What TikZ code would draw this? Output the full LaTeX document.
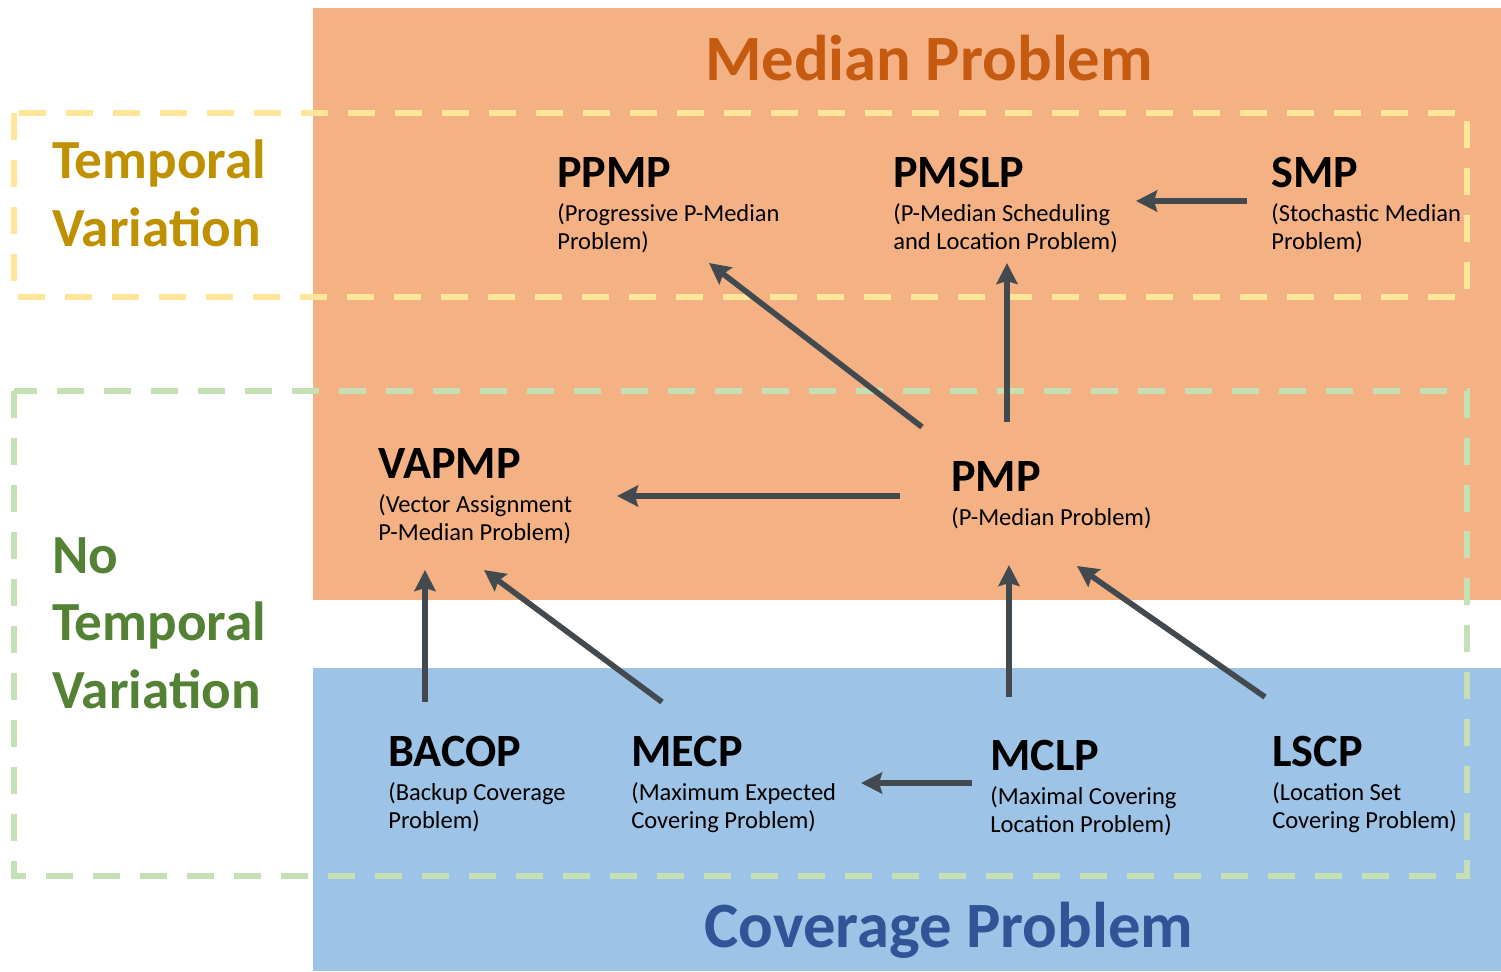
\documentclass[tikz,border=0pt]{standalone}
\usepackage{fontspec}
\setmainfont{Carlito}
\usetikzlibrary{arrows.meta}
\definecolor{medianfill}{HTML}{F4B183}
\definecolor{coverfill}{HTML}{9DC3E6}
\definecolor{mediantext}{HTML}{C55A11}
\definecolor{covertext}{HTML}{2F5597}
\definecolor{goldtext}{HTML}{BF9000}
\definecolor{greentext}{HTML}{548235}
\definecolor{golddash}{HTML}{FFE699}
\definecolor{greendash}{HTML}{C5E0B4}
\definecolor{arrowgray}{HTML}{42494F}
\begin{document}
\begin{tikzpicture}[x=0.02cm,y=-0.02cm,
  abbr/.style={anchor=base west, inner sep=0pt, font=\fontsize{26.3}{30}\selectfont\bfseries},
  fullname/.style={anchor=base west, inner sep=0pt, align=left, font=\fontsize{13.95}{15.9}\selectfont},
  bandtitle/.style={anchor=base, inner sep=0pt, font=\fontsize{36.8}{40}\selectfont\bfseries},
  sidetitle/.style={anchor=base west, inner sep=0pt, align=left, font=\fontsize{31.4}{38.3}\selectfont\bfseries},
  dashbox/.style={line width=3.4pt, dash pattern=on 0.54cm off 0.4cm},
  link/.style={draw=arrowgray, line width=3.2pt, -{Stealth[length=0.42cm,width=0.42cm,inset=0.06cm]}}
]
\useasboundingbox (0,0) rectangle (1501,971);

% coloured bands
\fill[medianfill] (313,8) rectangle (1501,600);
\fill[coverfill] (313,668) rectangle (1501,971);

% dashed groupings
\draw[dashbox, golddash] (14,113) rectangle (1467,297);
\draw[dashbox, greendash] (14,391) rectangle (1467,876);

% band titles
\node[bandtitle, text=mediantext] (mtitle) at (929,80) {Median Problem};
\node[bandtitle, text=covertext] (ctitle) at (949,947) {Coverage Problem};

% side titles (anchored on the last line)
\node[sidetitle, text=goldtext] (tv) at (52,246) {Temporal\\Variation};
\node[sidetitle, text=greentext] (ntv) at (52,708) {No\\Temporal\\Variation};

% problems: acronym, then full name (anchored on its last line)
\node[abbr] (ppmp) at (557,187) {PPMP};
\node[fullname] (ppmp-d) at (557,249) {(Progressive P-Median\\Problem)};
\node[abbr] (pmslp) at (893,187) {PMSLP};
\node[fullname] (pmslp-d) at (893,249) {(P-Median Scheduling\\and Location Problem)};
\node[abbr] (smp) at (1271,187) {SMP};
\node[fullname] (smp-d) at (1271,249) {(Stochastic Median\\Problem)};
\node[abbr] (vapmp) at (378,478) {VAPMP};
\node[fullname] (vapmp-d) at (378,540) {(Vector Assignment\\P-Median Problem)};
\node[abbr] (pmp) at (951,491) {PMP};
\node[fullname] (pmp-d) at (951,525) {(P-Median Problem)};
\node[abbr] (bacop) at (388,766) {BACOP};
\node[fullname] (bacop-d) at (388,828) {(Backup Coverage\\Problem)};
\node[abbr] (mecp) at (631,766) {MECP};
\node[fullname] (mecp-d) at (631,828) {(Maximum Expected\\Covering Problem)};
\node[abbr] (mclp) at (990,770) {MCLP};
\node[fullname] (mclp-d) at (990,832) {(Maximal Covering\\Location Problem)};
\node[abbr] (lscp) at (1272,766) {LSCP};
\node[fullname] (lscp-d) at (1272,828) {(Location Set\\Covering Problem)};

% connector ends
\coordinate (smp-out) at (1247,201);
\coordinate (pmslp-in1) at (1136,201);
\coordinate (pmp-out1) at (1007,422);
\coordinate (pmslp-in2) at (1007,263);
\coordinate (pmp-out2) at (922,427);
\coordinate (ppmp-in) at (709,263);
\coordinate (pmp-out3) at (900,496);
\coordinate (vapmp-in1) at (617,496);
\coordinate (mclp-out1) at (1009,697);
\coordinate (pmp-in1) at (1009,565);
\coordinate (lscp-out) at (1265,697);
\coordinate (pmp-in2) at (1077,566);
\coordinate (mclp-out2) at (972,783);
\coordinate (mecp-in) at (861,783);
\coordinate (bacop-out) at (425,702);
\coordinate (vapmp-in2) at (425,570);
\coordinate (mecp-out) at (662,702);
\coordinate (vapmp-in3) at (484,570);

% derivations
\draw[link] (smp-out) -- (pmslp-in1);
\draw[link] (pmp-out1) -- (pmslp-in2);
\draw[link] (pmp-out2) -- (ppmp-in);
\draw[link] (pmp-out3) -- (vapmp-in1);
\draw[link] (mclp-out1) -- (pmp-in1);
\draw[link] (lscp-out) -- (pmp-in2);
\draw[link] (mclp-out2) -- (mecp-in);
\draw[link] (bacop-out) -- (vapmp-in2);
\draw[link] (mecp-out) -- (vapmp-in3);
\end{tikzpicture}
\end{document}
